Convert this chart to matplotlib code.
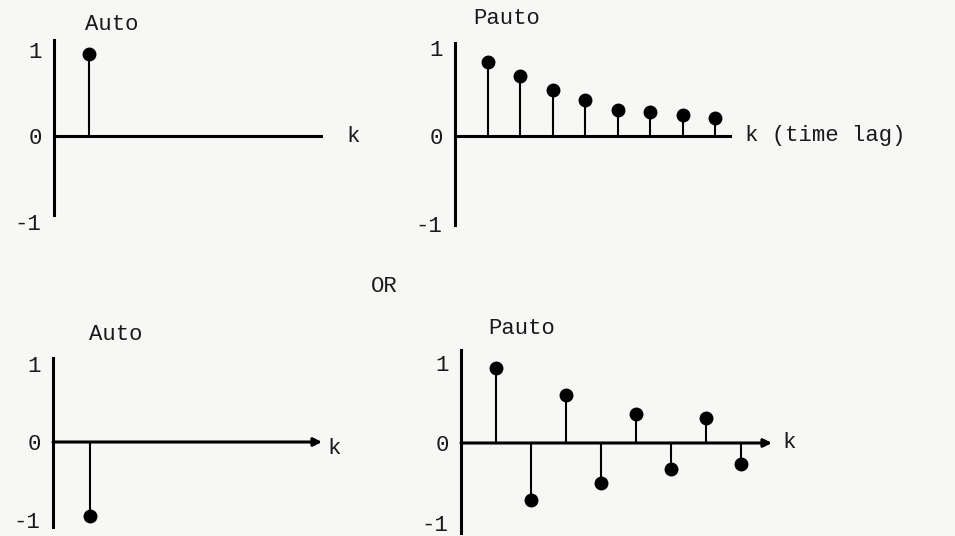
import numpy as np
import matplotlib.pyplot as plt

# lags and correlation values
lags_top_auto = [1]
auto_top = [0.95]
lags_top_pauto = [1, 2, 3, 4, 5, 6, 7, 8]
pauto_top = [0.84, 0.68, 0.52, 0.41, 0.30, 0.27, 0.24, 0.21]

lags_bot_auto = [1]
auto_bot = [-0.95]
lags_bot_pauto = [1, 2, 3, 4, 5, 6, 7, 8]
pauto_bot = [0.94, -0.71, 0.60, -0.50, 0.36, -0.33, 0.31, -0.26]

tick_vals = [-1, 0, 1]
tick_labels = ['-1', '0', '1']

W, H = 955, 536
BG = '#f7f7f5'
FONT = 'Liberation Mono'
FS = 16

fig = plt.figure(figsize=(W / 100, H / 100), dpi=100, facecolor=BG)


def make_panel(left, right, zero_y, unit, step, top, bottom, arrow=False):
    '''
    Build one correlogram axes from its layout in pixels
    left/right: x of the vertical axis and end of the k axis
    zero_y: y of the k axis, unit: pixels per 1.0 of correlation
    step: pixels per lag, top/bottom: ends of the vertical axis
    '''
    ylo = min(-1.02, -(bottom - zero_y) / unit)
    yhi = max(1.02, (zero_y - top) / unit)
    y_top = zero_y - yhi * unit
    y_bot = zero_y - ylo * unit
    ax = fig.add_axes([left / W, 1 - y_bot / H, (right - left) / W, (y_bot - y_top) / H])
    ax.set_facecolor('none')
    ax.set_xlim(0, (right - left) / step)
    ax.set_ylim(ylo, yhi)
    for s in ['top', 'right', 'bottom']:
        ax.spines[s].set_visible(False)
    ax.spines['left'].set_linewidth(2.2)
    ax.spines['left'].set_bounds(-(bottom - zero_y) / unit, (zero_y - top) / unit)
    ax.set_xticks([])
    ax.set_yticks(tick_vals)
    ax.set_yticklabels(tick_labels, fontsize=FS, family=FONT, color='#1a1a1a')
    ax.tick_params(axis='y', length=0, pad=9)
    if arrow:
        ax.annotate('', xy=(1, 0), xytext=(0, 0),
                    xycoords=('axes fraction', 'data'), textcoords=('axes fraction', 'data'),
                    arrowprops=dict(arrowstyle='-|>', lw=2.2, color='k',
                                    mutation_scale=12, shrinkA=0, shrinkB=0),
                    annotation_clip=False)
    else:
        ax.axhline(0, color='k', lw=2.2)
    return ax


def draw_stems(ax, lags, vals):
    markers, stems, base = ax.stem(lags, vals, linefmt='k-', markerfmt='ko', basefmt=' ')
    plt.setp(stems, linewidth=1.5)
    plt.setp(markers, markersize=9)
    markers.set_clip_on(False)


ax1 = make_panel(54, 323, 136, 86, 35, 40, 215)
draw_stems(ax1, lags_top_auto, auto_top)

ax2 = make_panel(455, 732, 136, 88, 32.5, 43, 225)
draw_stems(ax2, lags_top_pauto, pauto_top)

ax3 = make_panel(53, 322, 442, 78, 37, 358, 527, arrow=True)
draw_stems(ax3, lags_bot_auto, auto_bot)

ax4 = make_panel(461, 772, 443, 80, 35, 350, 533, arrow=True)
draw_stems(ax4, lags_bot_pauto, pauto_bot)


def label(x, y, s, ha='center'):
    fig.text(x / W, 1 - y / H, s, ha=ha, va='center', fontsize=FS, family=FONT, color='#1a1a1a')


label(112, 25, 'Auto')
label(507, 18, 'Pauto')
label(116, 335, 'Auto')
label(522, 328, 'Pauto')
label(346, 136, 'k', ha='left')
label(745, 135, 'k (time lag)', ha='left')
label(327, 448, 'k', ha='left')
label(782, 442, 'k', ha='left')
label(384, 287, 'OR')

plt.savefig('out.png', dpi=100, facecolor=BG)
